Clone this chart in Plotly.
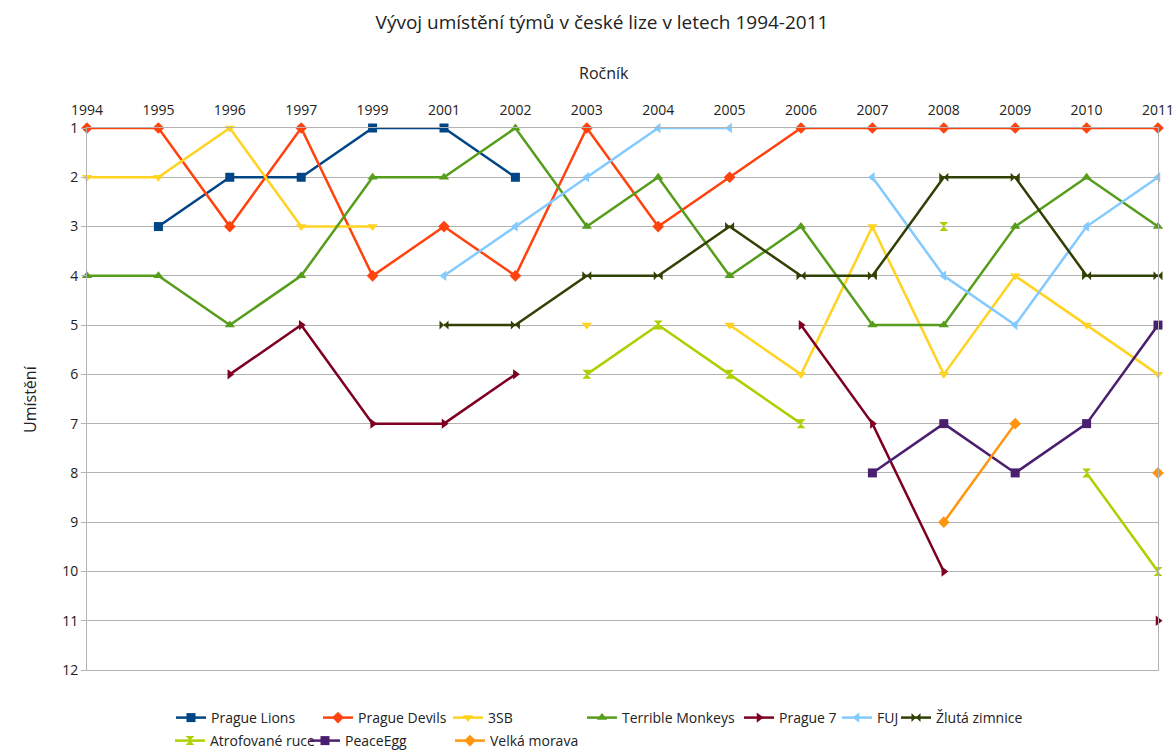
import plotly.graph_objects as go

years = ["1994", "1995", "1996", "1997", "1999", "2001", "2002", "2003",
         "2004", "2005", "2006", "2007", "2008", "2009", "2010", "2011"]
N = None

prague_lions = [N, 3, 2, 2, 1, 1, 2, N, N, N, N, N, N, N, N, N]
prague_devils = [1, 1, 3, 1, 4, 3, 4, 1, 3, 2, 1, 1, 1, 1, 1, 1]
sb3 = [2, 2, 1, 3, 3, N, N, 5, N, 5, 6, 3, 6, 4, 5, 6]
terrible_monkeys = [4, 4, 5, 4, 2, 2, 1, 3, 2, 4, 3, 5, 5, 3, 2, 3]
prague7 = [N, N, 6, 5, 7, 7, 6, N, N, N, 5, 7, 10, N, N, 11]
fuj = [N, N, N, N, N, 4, 3, 2, 1, 1, N, 2, 4, 5, 3, 2]
zluta_zimnice = [N, N, N, N, N, 5, 5, 4, 4, 3, 4, 4, 2, 2, 4, 4]
atrofovane_ruce = [N, N, N, N, N, N, N, 6, 5, 6, 7, N, 3, N, 8, 10]
peace_egg = [N, N, N, N, N, N, N, N, N, N, N, 8, 7, 8, 7, 5]
velka_morava = [N, N, N, N, N, N, N, N, N, N, N, N, 9, 7, N, 8]

series = [
    ("Prague Lions", prague_lions, "#004586", "square"),
    ("Prague Devils", prague_devils, "#ff420e", "diamond"),
    ("3SB", sb3, "#ffd320", "triangle-down"),
    ("Terrible Monkeys", terrible_monkeys, "#579d1c", "triangle-up"),
    ("Prague 7", prague7, "#7e0021", "triangle-right"),
    ("FUJ", fuj, "#83caff", "triangle-left"),
    ("Žlutá zimnice", zluta_zimnice, "#314004", "bowtie"),
    ("Atrofované ruce", atrofovane_ruce, "#aecf00", "hourglass"),
    ("PeaceEgg", peace_egg, "#4b1f6f", "square"),
    ("Velká morava", velka_morava, "#ff950e", "diamond"),
]

# legend text start positions in pixels (row, x)
legend_pos = [(1, 211), (1, 358), (1, 488), (1, 622), (1, 779), (1, 877), (1, 936),
              (2, 210), (2, 345), (2, 490)]

L, R, T, B = 87, 16, 128, 83
W, H = 1174, 753
pw = W - L - R
ph = H - T - B

FONT = "Open Sans"
TXT = "#222222"
fig = go.Figure()
layout_legends = {}
for i, (name, vals, color, sym) in enumerate(series):
    lname = "legend" if i == 0 else f"legend{i+1}"
    fig.add_trace(go.Scatter(
        x=years, y=vals, name=name, mode="lines+markers",
        line=dict(color=color, width=2.5),
        marker=dict(color=color, symbol=sym, size=9),
        connectgaps=False, cliponaxis=False, legend=lname, showlegend=True,
    ))
    row, tx = legend_pos[i]
    ypx = 718 if row == 1 else 741
    layout_legends[lname] = dict(
        x=(tx - 40 - L) / pw, y=(T + ph - ypx) / ph,
        xanchor="left", yanchor="middle", orientation="h",
        bgcolor="rgba(0,0,0,0)", font=dict(family=FONT, size=14, color=TXT),
        itemwidth=30, tracegroupgap=0, visible=True,
    )

fig.update_layout(
    width=W, height=H,
    margin=dict(l=L, r=R, t=T, b=B, autoexpand=False),
    showlegend=True,
    paper_bgcolor="white", plot_bgcolor="white",
    font=dict(family=FONT, size=14, color=TXT),
    title=dict(text="Vývoj umístění týmů v české lize v letech 1994-2011",
               x=602 / W, xref="container", xanchor="center",
               y=1 - 22 / H, yref="container", yanchor="middle",
               font=dict(family=FONT, size=19, color=TXT)),
    xaxis=dict(type="category", side="top", range=[0, 15],
               showgrid=False, showline=True, linecolor="#b3b3b3", mirror=True,
               ticks="", tickfont=dict(size=14, color=TXT),
               ticklabelstandoff=6),
    yaxis=dict(range=[12, 1], autorange=False, tickvals=list(range(1, 13)),
               showgrid=True, gridcolor="#b3b3b3", gridwidth=1,
               showline=True, linecolor="#b3b3b3", mirror=True,
               ticks="outside", ticklen=5, tickcolor="#b3b3b3",
               zeroline=False, tickfont=dict(size=14, color=TXT)),
    annotations=[
        dict(text="Ročník", xref="paper", yref="paper",
             x=(604 - L) / pw, y=(T + ph - 73) / ph, xanchor="center", yanchor="middle",
             showarrow=False, font=dict(family=FONT, size=16, color=TXT)),
        dict(text="Umístění", xref="paper", yref="paper",
             x=(30 - L) / pw, y=0.5, xanchor="center", yanchor="middle",
             textangle=-90, showarrow=False,
             font=dict(family=FONT, size=16, color=TXT)),
    ],
    **layout_legends,
)

fig.write_html(
    "out.html",
    config={"displayModeBar": False},
    post_script="document.body.style.margin='0px';document.body.style.overflow='hidden';",
)
